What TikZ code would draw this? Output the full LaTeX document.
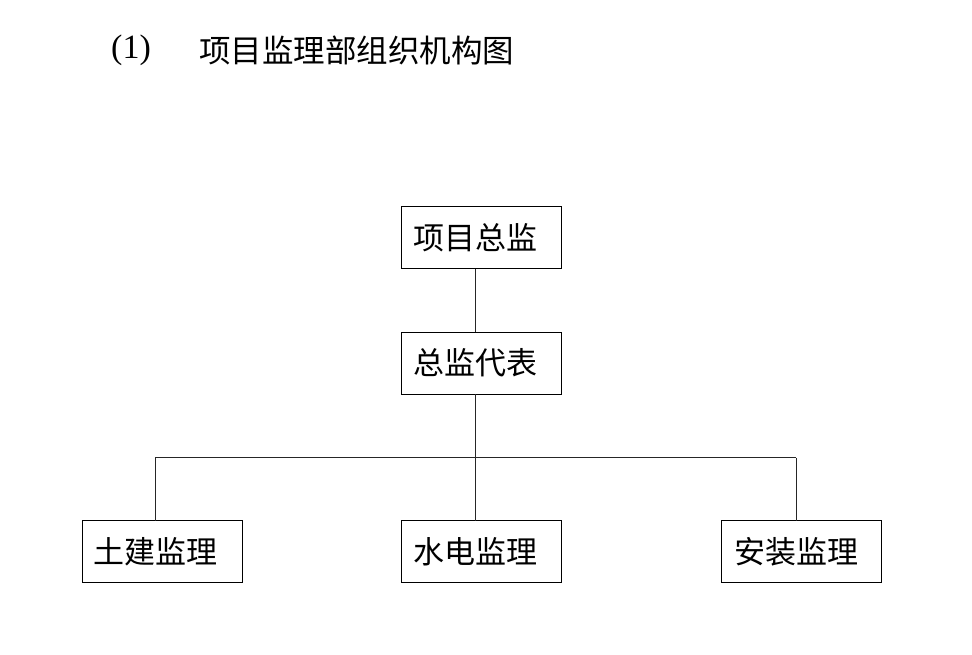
\documentclass[tikz,border=0pt]{standalone}
\usepackage{fontspec}
\setmainfont{Liberation Serif}
\newfontfamily\cjk{Noto Sans CJK SC}
\begin{document}
\begin{tikzpicture}[x=1pt,y=-1pt,
  orgbox/.style={draw=black,line width=0.9pt,minimum width=160pt,minimum height=62pt,inner sep=0pt,
    font=\cjk\fontsize{31}{31}\selectfont},
  link/.style={draw=black!85,line width=0.9pt}]
\useasboundingbox (0,0) rectangle (972,654);
\node[anchor=west,inner sep=0pt,font=\fontsize{34}{34}\selectfont] (num) at (111,50) {(1)};
\node[anchor=west,inner sep=0pt,font=\cjk\fontsize{31.5}{31.5}\selectfont] (title) at (199,50) {项目监理部组织机构图};
\node[orgbox] (zj) at (481,237.5) {\hspace*{-12pt}项目总监};
\node[orgbox] (db) at (481,363) {\hspace*{-12pt}总监代表};
\node[orgbox] (tj) at (162,551.5) {\hspace*{-13pt}土建监理};
\node[orgbox] (sd) at (481,551.5) {\hspace*{-12pt}水电监理};
\node[orgbox] (az) at (801,551.5) {\hspace*{-9pt}安装监理};
\coordinate (a1) at (475,268.5);
\coordinate (a2) at (475,332);
\coordinate (a3) at (475,394);
\coordinate (hm) at (475,457.5);
\coordinate (hl) at (155,457.5);
\coordinate (hr) at (796,457.5);
\coordinate (bl) at (155,520.5);
\coordinate (bm) at (475,520.5);
\coordinate (br) at (796,520.5);
\draw[link] (a1) -- (a2);
\draw[link] (a3) -- (hm);
\draw[link] (hl) -- (hr);
\draw[link] (hl) -- (bl);
\draw[link] (hm) -- (bm);
\draw[link] (hr) -- (br);
\end{tikzpicture}
\end{document}
